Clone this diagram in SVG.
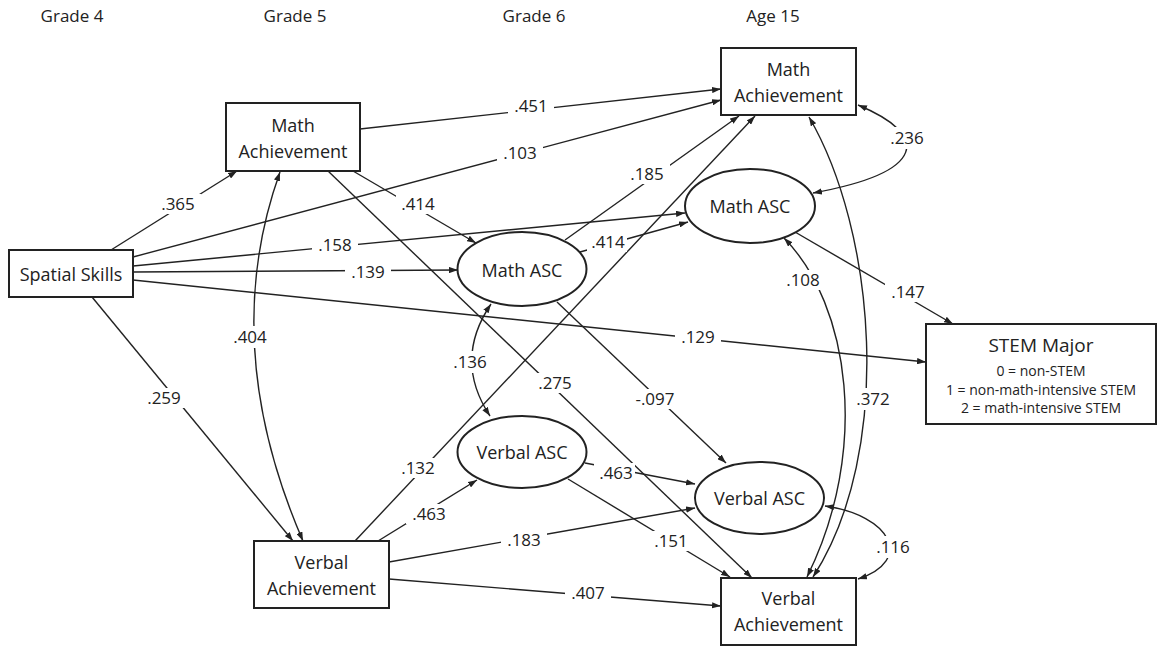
<svg xmlns="http://www.w3.org/2000/svg" width="1158" height="648" viewBox="0 0 1158 648">
<style>
.node{fill:#fff;stroke:#222;stroke-width:2}
.nt{font-family:"Open Sans","Noto Sans",sans-serif;font-size:18px;fill:#222;text-anchor:middle}
.hd{font-family:"Open Sans","Noto Sans",sans-serif;font-size:17px;fill:#222;text-anchor:middle}
.st{font-family:"Open Sans","Noto Sans",sans-serif;font-size:14px;fill:#222;text-anchor:middle}
.e{fill:none;stroke:#222;stroke-width:1.4;marker-end:url(#ah)}
.d{fill:none;stroke:#222;stroke-width:1.4;marker-end:url(#ah);marker-start:url(#ah)}
.bg{fill:#fff;stroke:none}
.lb{font-family:"Open Sans","Noto Sans",sans-serif;font-size:17px;fill:#222;text-anchor:middle}
</style>
<defs>
<marker id="ah" viewBox="0 0 10 7" refX="10" refY="3.5" markerWidth="9" markerHeight="6.5" markerUnits="userSpaceOnUse" orient="auto-start-reverse">
<path d="M0,0 L10,3.5 L0,7 z" fill="#222"/>
</marker>
</defs>
<rect width="1158" height="648" fill="#fff"/>
<g id="headers">
<text class="hd" x="72" y="22">Grade 4</text>
<text class="hd" x="295" y="22">Grade 5</text>
<text class="hd" x="534" y="22">Grade 6</text>
<text class="hd" x="773" y="22">Age 15</text>
</g>
<g id="connectors">
<path class="e" d="M111,250 L237,171"/>
<path class="e" d="M92,297 L293,541"/>
<path class="e" d="M133,257 L721,100"/>
<path class="e" d="M360,129 L721,89"/>
<path class="e" d="M133,266 L685,213"/>
<path class="e" d="M133,272 L458,270"/>
<path class="e" d="M133,280 L926,362"/>
<path class="e" d="M353,171 L476,243"/>
<path class="e" d="M328,171 L752,578"/>
<path class="e" d="M565,240 L739,116"/>
<path class="e" d="M580,252 L688,222"/>
<path class="e" d="M557,302 L726,463"/>
<path class="e" d="M355,541 L755,116"/>
<path class="e" d="M378,541 L477,480"/>
<path class="e" d="M389,562 L695,508"/>
<path class="e" d="M389,579 L721,606"/>
<path class="e" d="M585,463 L695,484"/>
<path class="e" d="M568,479 L730,577"/>
<path class="e" d="M795,232 L953,324"/>
<path class="d" d="M280,172 Q218,345 303,541"/>
<path class="d" d="M491,304 Q453,360 490,416"/>
<path class="d" d="M858,105 C930,135 928,172 813,193"/>
<path class="d" d="M784,238 C850,305 870,450 807,577"/>
<path class="d" d="M809,117 C875,230 895,450 813,577"/>
<path class="d" d="M825,506 C890,515 915,560 858,579"/>
</g>
<g id="labels">
<rect class="bg" x="155" y="194" width="46" height="20"/><text class="lb" x="178" y="210">.365</text>
<rect class="bg" x="141" y="388" width="46" height="20"/><text class="lb" x="164" y="404">.259</text>
<rect class="bg" x="227" y="326" width="46" height="22"/><text class="lb" x="250" y="343">.404</text>
<rect class="bg" x="508" y="96" width="46" height="20"/><text class="lb" x="531" y="112">.451</text>
<rect class="bg" x="497" y="143" width="46" height="20"/><text class="lb" x="520" y="159">.103</text>
<rect class="bg" x="396" y="194" width="44" height="20"/><text class="lb" x="418" y="210">.414</text>
<rect class="bg" x="624" y="164" width="46" height="20"/><text class="lb" x="647" y="180">.185</text>
<rect class="bg" x="312" y="235" width="46" height="20"/><text class="lb" x="335" y="251">.158</text>
<rect class="bg" x="345" y="262" width="46" height="20"/><text class="lb" x="368" y="278">.139</text>
<rect class="bg" x="587" y="232" width="40" height="20"/><text class="lb" x="608" y="248">.414</text>
<rect class="bg" x="447" y="351" width="46" height="22"/><text class="lb" x="470" y="368">.136</text>
<rect class="bg" x="532" y="373" width="46" height="20"/><text class="lb" x="555" y="389">.275</text>
<rect class="bg" x="629" y="389" width="52" height="20"/><text class="lb" x="655" y="405">-.097</text>
<rect class="bg" x="675" y="327" width="46" height="20"/><text class="lb" x="698" y="343">.129</text>
<rect class="bg" x="884" y="127" width="46" height="22"/><text class="lb" x="907" y="144">.236</text>
<rect class="bg" x="780" y="270" width="46" height="20"/><text class="lb" x="803" y="286">.108</text>
<rect class="bg" x="885" y="282" width="46" height="20"/><text class="lb" x="908" y="298">.147</text>
<rect class="bg" x="855" y="388" width="37" height="22"/><text class="lb" x="873" y="405">.372</text>
<rect class="bg" x="395" y="458" width="46" height="20"/><text class="lb" x="418" y="474">.132</text>
<rect class="bg" x="406" y="504" width="46" height="20"/><text class="lb" x="429" y="520">.463</text>
<rect class="bg" x="594" y="463" width="41" height="20"/><text class="lb" x="616" y="479">.463</text>
<rect class="bg" x="501" y="530" width="46" height="20"/><text class="lb" x="524" y="546">.183</text>
<rect class="bg" x="648" y="531" width="46" height="20"/><text class="lb" x="671" y="547">.151</text>
<rect class="bg" x="565" y="583" width="46" height="20"/><text class="lb" x="588" y="599">.407</text>
<rect class="bg" x="870" y="536" width="46" height="22"/><text class="lb" x="893" y="553">.116</text>
</g>
<g id="spatial-skills">
<rect class="node" x="9" y="250" width="124" height="47"/>
<text class="nt" x="71" y="281">Spatial Skills</text>
</g>
<g id="math-ach-g5">
<rect class="node" x="226" y="103" width="134" height="68"/>
<text class="nt" x="293" y="132">Math</text>
<text class="nt" x="293" y="158">Achievement</text>
</g>
<g id="verbal-ach-g5">
<rect class="node" x="254" y="541" width="135" height="67"/>
<text class="nt" x="321.5" y="569">Verbal</text>
<text class="nt" x="321.5" y="595">Achievement</text>
</g>
<g id="math-asc-g6">
<ellipse class="node" cx="522" cy="269" rx="64.5" ry="37"/>
<text class="nt" x="522" y="277">Math ASC</text>
</g>
<g id="verbal-asc-g6">
<ellipse class="node" cx="522" cy="452" rx="64.5" ry="36"/>
<text class="nt" x="522" y="459">Verbal ASC</text>
</g>
<g id="math-ach-15">
<rect class="node" x="721" y="48" width="135" height="67"/>
<text class="nt" x="788.5" y="76">Math</text>
<text class="nt" x="788.5" y="102">Achievement</text>
</g>
<g id="math-asc-15">
<ellipse class="node" cx="750" cy="206" rx="65" ry="37"/>
<text class="nt" x="750" y="213">Math ASC</text>
</g>
<g id="verbal-asc-15">
<ellipse class="node" cx="759.5" cy="498" rx="64.5" ry="36"/>
<text class="nt" x="759.5" y="505">Verbal ASC</text>
</g>
<g id="verbal-ach-15">
<rect class="node" x="721" y="578" width="135" height="67"/>
<text class="nt" x="788.5" y="605">Verbal</text>
<text class="nt" x="788.5" y="631">Achievement</text>
</g>
<g id="stem-major">
<rect class="node" x="926" y="324" width="230" height="100"/>
<text class="nt" x="1041" y="352" style="font-size:19px">STEM Major</text>
<text class="st" x="1041" y="376">0 = non-STEM</text>
<text class="st" x="1041" y="395">1 = non-math-intensive STEM</text>
<text class="st" x="1041" y="413">2 = math-intensive STEM</text>
</g>
</svg>
